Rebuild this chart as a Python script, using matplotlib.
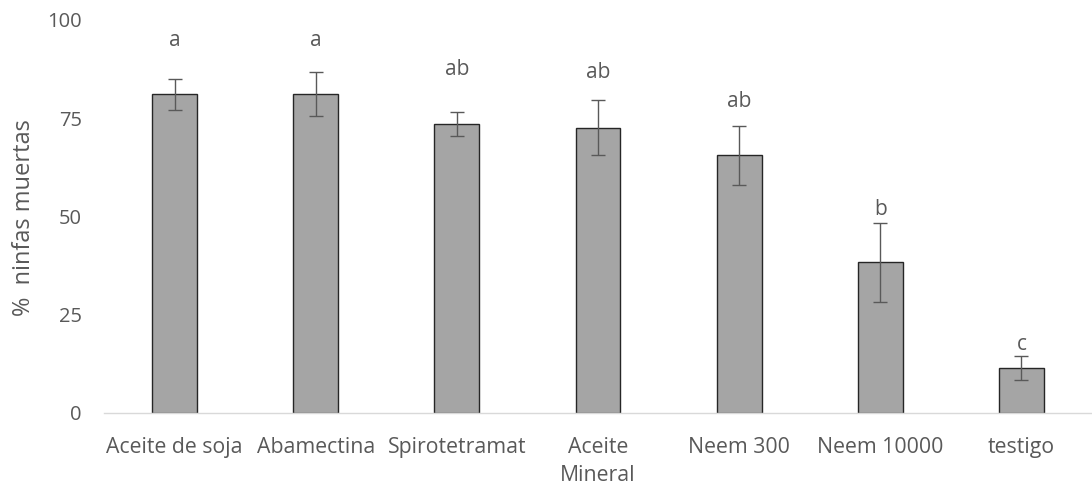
import numpy as np
import matplotlib
matplotlib.use('Agg')
import matplotlib.pyplot as plt

plt.rcParams['font.family'] = ['Open Sans', 'DejaVu Sans']

# datos
tratamientos = ['Aceite de soja', 'Abamectina', 'Spirotetramat', 'Aceite\nMineral',
                'Neem 300', 'Neem 10000', 'testigo']
mortalidad = [81.1, 81.1, 73.5, 72.6, 65.6, 38.3, 11.5]
error = [3.9, 5.6, 3.1, 7.0, 7.5, 10.1, 3.0]
letras = ['a', 'a', 'ab', 'ab', 'ab', 'b', 'c']
letras_y = [94.9, 94.9, 87.5, 86.6, 79.2, 51.9, 17.5]
yticks = [0, 25, 50, 75, 100]

txt = '#595959'

fig = plt.figure(figsize=(10.92, 4.84), dpi=100)
ax = fig.add_axes([0.0952, 0.1467, 0.9048, 0.812])

x = np.arange(len(tratamientos))
ax.bar(x, mortalidad, width=0.317, color='#a5a5a5', edgecolor='#262626', linewidth=1.0, zorder=2)
ax.errorbar(x, mortalidad, yerr=error, fmt='none', ecolor='#595959', elinewidth=1.0,
            capsize=4.7, capthick=1.0, zorder=3)

for xi, lab, ly in zip(x, letras, letras_y):
    ax.text(xi, ly, lab, ha='center', va='center', fontsize=15, color=txt)

ax.set_xlim(-0.5, len(tratamientos) - 0.5)
ax.set_ylim(0, 100)
ax.set_yticks(yticks)
ax.set_xticks(x)
ax.set_xticklabels(tratamientos, fontsize=15.3, color=txt, linespacing=1.45, va='top')
ax.tick_params(axis='y', length=0, labelsize=14.5, labelcolor=txt, pad=16)
ax.tick_params(axis='x', length=0, pad=17)

for s in ['top', 'right', 'left']:
    ax.spines[s].set_visible(False)
ax.spines['bottom'].set_color('#d9d9d9')
ax.spines['bottom'].set_linewidth(1.0)

fig.text(0.022, 0.551, '%  ninfas muertas', rotation=90, ha='center', va='center',
         fontsize=17, color=txt)

fig.savefig('out.png', dpi=100)
